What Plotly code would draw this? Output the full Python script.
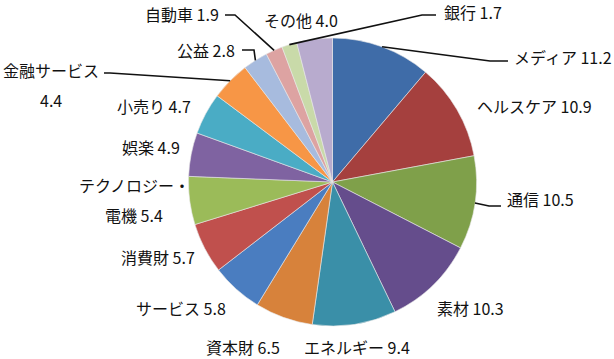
import math
import plotly.graph_objects as go

# ---------------- data ----------------
categories = ["メディア", "ヘルスケア", "通信", "素材", "エネルギー", "資本財", "サービス",
              "消費財", "テクノロジー・電機", "娯楽", "小売り", "金融サービス", "公益",
              "自動車", "銀行", "その他"]
values = [11.2, 10.9, 10.5, 10.3, 9.4, 6.5, 5.8, 5.7, 5.4, 4.9, 4.7, 4.4, 2.8, 1.9, 1.7, 4.0]
colors = ["#3F6CA8", "#A5403E", "#7FA04A", "#654D8C", "#3A8FA8", "#D7823B", "#4A7DC0",
          "#C0504D", "#9BBB59", "#7F63A1", "#4AACC5", "#F79646", "#A7BBDE", "#DDA3A2",
          "#C9DAA9", "#B8ABCE"]

# ---------------- layout (pixels) ----------------
W, H = 614, 359
CX, CY, R = 332.5, 182.0, 144.0

def px(x):
    return x / W

def py(y):
    return 1 - y / H

# label placement: (x, y_center, xanchor); split lines for two-line labels
label_pos = {
    0: (512, 57, "left"), 1: (475, 106, "left"), 2: (505, 199, "left"),
    3: (435, 308, "left"), 4: (412, 347, "right"), 5: (282, 347, "right"),
    6: (228, 308, "right"), 7: (197, 257, "right"), 9: (182, 147, "right"),
    10: (193, 106, "right"), 12: (237, 50, "right"), 13: (221, 14, "right"),
    14: (442, 12, "left"), 15: (262, 20, "left"),
}
two_line = {
    8: ((134, 185), (134, 215), "テクノロジー・", "電機"),
    11: ((51, 70), (51, 100), "金融サービス", ""),
}
# leader line bend points on the label side
leaders = {
    0: [(490, 61), (508, 61)],
    2: [(489, 206), (501, 206)],
    11: [(110, 73), (104, 73)],
    12: [(254, 50), (242, 50)],
    13: [(235, 15), (225, 15)],
    14: [(422, 15), (436, 15)],
}

fig = go.Figure()
fig.add_trace(go.Pie(
    labels=categories, values=values, sort=False, direction="clockwise", rotation=0,
    marker=dict(colors=colors, line=dict(color="#E8E8E8", width=0.6)),
    textinfo="none", hoverinfo="label+value", showlegend=False,
    domain=dict(x=[px(CX - R), px(CX + R)], y=[py(CY + R), py(CY - R)]),
))

font = dict(family="Noto Sans CJK JP, sans-serif", size=16, color="#111111")
annotations = []
for i, (name, v) in enumerate(zip(categories, values)):
    if i in label_pos:
        x, y, anc = label_pos[i]
        annotations.append(dict(x=px(x), y=py(y), xref="paper", yref="paper",
                                text=f"{name} {v}", showarrow=False, xanchor=anc,
                                yanchor="middle", font=font))
    elif i in two_line:
        p1, p2, t1, t2 = two_line[i]
        line2 = f"{t2} {v}" if t2 else f"{v}"
        annotations.append(dict(x=px(p1[0]), y=py(p1[1]), xref="paper", yref="paper",
                                text=t1, showarrow=False, xanchor="center",
                                yanchor="middle", font=font))
        annotations.append(dict(x=px(p2[0]), y=py(p2[1]), xref="paper", yref="paper",
                                text=line2, showarrow=False, xanchor="center",
                                yanchor="middle", font=font))

# leader lines: start at slice mid-angle on the pie edge
total = sum(values)
cum = 0.0
shapes = []
for i, v in enumerate(values):
    mid = (cum + v / 2) / total
    cum += v
    if i not in leaders:
        continue
    th = 2 * math.pi * mid
    sx = CX + R * math.sin(th)
    sy = CY - R * math.cos(th)
    pts = [(sx, sy)] + leaders[i]
    path = "M " + " L ".join(f"{px(a):.5f},{py(b):.5f}" for a, b in pts)
    shapes.append(dict(type="path", path=path, xref="paper", yref="paper",
                       line=dict(color="#111111", width=1.6)))

fig.update_layout(
    width=W, height=H, margin=dict(l=0, r=0, t=0, b=0),
    paper_bgcolor="white", plot_bgcolor="white",
    annotations=annotations, shapes=shapes,
)

fig.write_html("out.html", config={"displayModeBar": False},
               post_script="document.body.style.margin='0';document.body.style.overflow='hidden';")
